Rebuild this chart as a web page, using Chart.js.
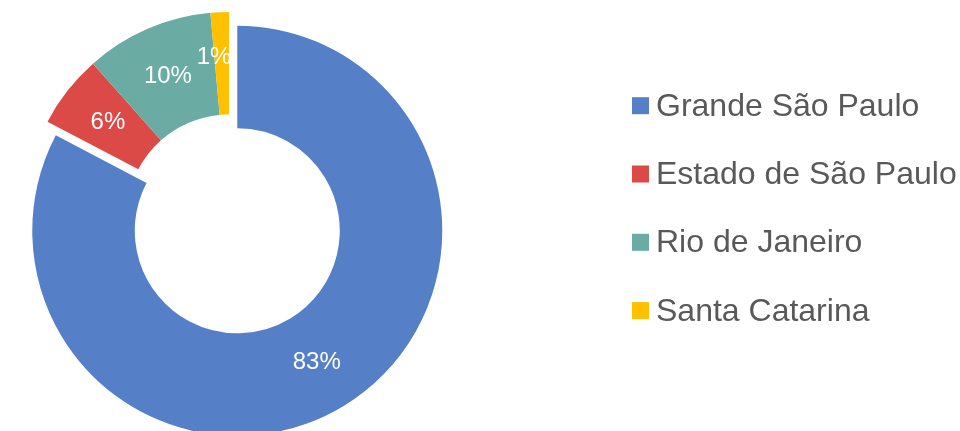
<!DOCTYPE html>
<html>
<head>
<meta charset="utf-8">
<script src="https://cdn.jsdelivr.net/npm/chart.js@4/dist/chart.umd.min.js"></script>
<style>
  html, body { margin: 0; padding: 0; background: #fff; }
  #wrap { width: 960px; height: 431px; }
</style>
</head>
<body>
<div id="wrap"><canvas id="regionChart" width="960" height="431"></canvas></div>
<script>
const regions = ['Grande São Paulo', 'Estado de São Paulo', 'Rio de Janeiro', 'Santa Catarina'];
const shares = [82.7, 5.75, 10.1, 1.45];
const colors = ['#5580C8', '#DB4A46', '#6AABA3', '#FFC000'];

// Excel-style point explosion (px): the slice moves out, its radius stays the same
const explodePx = [16, 0, 0, 0];

// small nudges so the labels sit where the original put them
const labelNudge = [[0, 0], [0, 0], [0, 0], [-8, -6]];

const FONT = "'Liberation Sans', Arial, sans-serif";

// Chart.js' own offset also grows the radius, so shift the arc centre instead
const explodeSlices = {
    id: 'explodeSlices',
    afterDatasetUpdate(chart, args) {
        if (args.index !== 0) return;
        args.meta.data.forEach((arc, i) => {
            const d = explodePx[i] || 0;
            if (!d) return;
            const mid = (arc.startAngle + arc.endAngle) / 2;
            arc.x += Math.cos(mid) * d;
            arc.y += Math.sin(mid) * d;
        });
    }
};

// percentage labels inside the slices
const sliceLabels = {
    id: 'sliceLabels',
    afterDatasetsDraw(chart) {
        const ctx = chart.ctx;
        const meta = chart.getDatasetMeta(0);
        const total = shares.reduce((a, b) => a + b, 0);
        ctx.save();
        ctx.fillStyle = '#FFFFFF';
        ctx.font = '24px ' + FONT;
        ctx.textAlign = 'center';
        ctx.textBaseline = 'middle';
        meta.data.forEach((arc, i) => {
            const mid = (arc.startAngle + arc.endAngle) / 2;
            const r = (arc.innerRadius + arc.outerRadius) / 2;
            const x = arc.x + Math.cos(mid) * r + labelNudge[i][0];
            const y = arc.y + Math.sin(mid) * r + labelNudge[i][1];
            ctx.fillText(Math.round(shares[i] / total * 100) + '%', x, y);
        });
        ctx.restore();
    }
};

// legend on the right, laid out like the original
const sideLegend = {
    id: 'sideLegend',
    afterDraw(chart) {
        const ctx = chart.ctx;
        const left = 632, box = 17, gap = 7, firstBase = 115.7, step = 68.3;
        ctx.save();
        ctx.font = '32px ' + FONT;
        ctx.textBaseline = 'alphabetic';
        ctx.textAlign = 'left';
        regions.forEach((name, i) => {
            const base = firstBase + i * step;
            ctx.fillStyle = colors[i];
            ctx.fillRect(left, base - 18.5, box, box);
            ctx.fillStyle = '#595959';
            ctx.fillText(name, left + box + gap, base);
        });
        ctx.restore();
    }
};

new Chart(document.getElementById('regionChart'), {
    type: 'doughnut',
    data: {
        labels: regions,
        datasets: [{
            data: shares,
            backgroundColor: colors,
            borderWidth: 0,
            hoverOffset: 0
        }]
    },
    options: {
        responsive: false,
        animation: false,
        events: [],
        radius: 205,
        cutout: '50%',
        layout: {
            padding: { left: 0, right: 502, top: 3, bottom: 0 }
        },
        plugins: {
            legend: { display: false },
            tooltip: { enabled: false }
        }
    },
    plugins: [explodeSlices, sliceLabels, sideLegend]
});
</script>
</body>
</html>
